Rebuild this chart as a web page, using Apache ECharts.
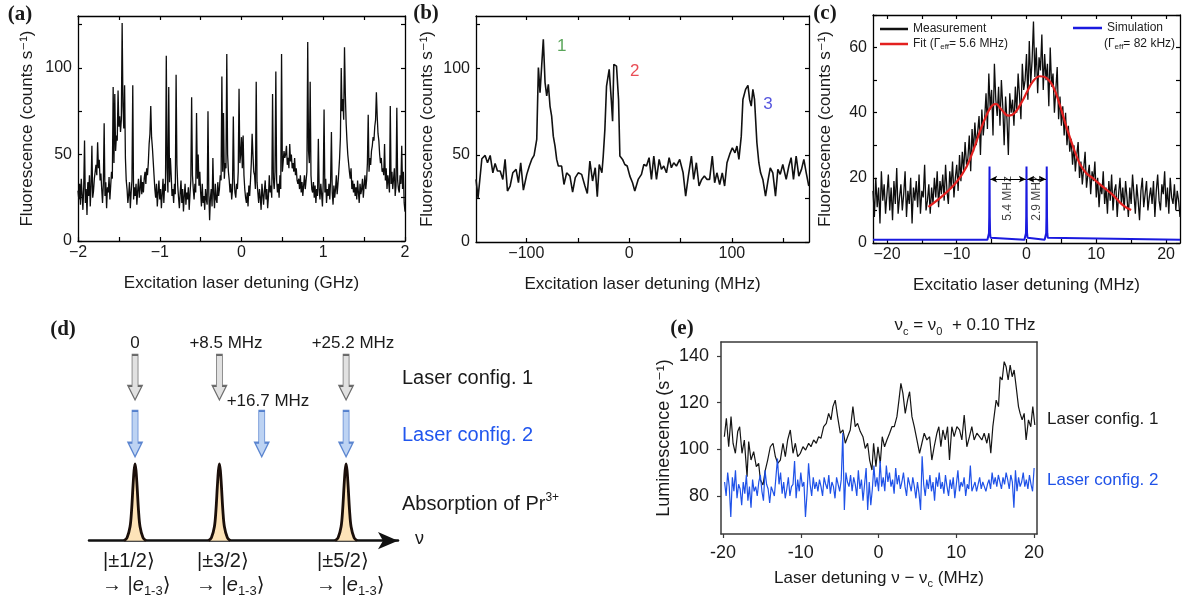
<!DOCTYPE html>
<html><head><meta charset="utf-8">
<script src="https://cdn.jsdelivr.net/npm/echarts@6/dist/echarts.min.js"></script>
<style>html,body{margin:0;padding:0;background:#fff}#c{width:1188px;height:605px}</style>
</head><body><div id="c"></div>
<script>
// ================= DATA =================
// (a) Fluorescence vs detuning (GHz), evenly sampled from -2 to 2
const aRange = [-2, 2];
const aY = [
29,24,33,21,36,27,18,31,58,22,30,15,34,26,38,20,32,55,25,29,
36,40,44,38,57,42,47,35,39,30,22,33,68,26,34,19,31,28,37,24,
32,40,36,89,45,85,52,61,58,87,66,72,63,70,126,78,65,90,48,35,
30,22,27,34,19,28,35,90,24,31,26,33,21,29,36,25,30,38,27,34,
28,36,40,33,42,38,45,56,62,78,60,54,46,38,30,25,33,20,28,35,
24,30,19,27,36,22,33,29,107,42,28,89,34,48,38,26,30,22,33,27,
96,44,32,25,19,28,35,22,30,17,26,33,21,28,24,31,18,27,35,83,
38,30,24,33,28,74,36,50,32,40,28,20,33,22,26,18,30,24,21,75,
28,12,25,30,20,48,27,19,33,24,22,34,26,30,38,35,95,40,74,36,
45,42,108,50,40,35,28,33,24,30,72,36,28,25,33,30,40,88,45,50,
60,42,61,38,30,25,22,28,20,32,26,35,45,62,50,40,38,30,92,34,
28,22,30,25,18,33,27,21,29,35,24,30,19,26,38,28,32,25,85,36,
30,40,98,35,28,33,25,38,30,108,40,46,52,48,50,55,44,48,42,56,
46,50,42,45,40,48,38,42,35,33,36,30,38,28,34,26,32,38,30,35,
40,115,52,45,92,38,30,28,34,25,32,22,30,26,59,30,24,33,27,20,
34,76,28,36,22,30,26,33,24,35,63,28,21,32,25,30,38,27,33,40,
48,60,100,75,82,70,112,85,68,58,50,45,40,36,42,30,35,28,33,26,
31,24,35,28,22,33,27,30,36,25,32,38,30,35,45,73,40,48,44,52,
55,60,58,66,70,86,72,62,58,50,45,48,40,42,38,56,35,42,30,38,
34,28,78,33,40,30,36,42,26,32,77,35,30,28,38,33,55,30,40,22,17];
const aXTicks = [-2,-1.5,-1,-0.5,0,0.5,1,1.5,2];
const aXLabels = [-2,-1,0,1,2];
const abYTicks = [0,25,50,75,100,125];
const abYLabels = [0,50,100];

// (b) Fluorescence vs detuning (MHz)
const bX = [-149,-147,-143.3,-140.1,-137.8,-135.2,-132.6,-130.4,-128.1,-125.5,
-122.9,-120.7,-118.4,-115.8,-113.2,-110,-107.7,-105.5,-102.9,-99.6,
-97.1,-94.8,-92.5,-89.9,-88.3,-86.7,-85.1,-83.5,-81.8,-80.2,
-78.6,-77,-75.4,-73.8,-72.1,-70.5,-68.9,-65.7,-63.4,-60.8,
-57.6,-55,-52.4,-49.5,-46.2,-43,-40.7,-38.2,-35.6,-33,
-31,-29.1,-26.5,-25.2,-23.6,-22,-19.4,-17.4,-16.1,-14.9,
-12.3,-10.3,-9,-6.4,-4.2,-1.9,0.7,3.3,5.5,8.8,
12,14.3,16.9,19.4,21.7,24,26.6,29.2,31.4,33.7,
36.3,38.9,41.1,43.4,46,49.2,52.5,55,57.6,60.6,
62.8,65.4,68,70.6,73.2,75.8,78.3,80.9,83.2,85.4,
88.1,90.6,92.9,95.2,97.8,100.4,103,104.9,106.8,109.1,
110.7,113.3,115.6,117.2,118.8,120.4,122,124.3,126.2,127.9,
130.1,132.7,135.3,137.3,139.8,142.4,144.7,147,149.5,152.8,
155.4,157.6,159.9,162.5,165.1,167.7,170,172.3,174.8];
const bY = [36.0,25.4,47.9,49.8,45.6,49.8,39.8,45.2,40.8,40.8,
36.0,47.5,29.3,32.2,39.8,41.8,34.1,45.6,29.8,38.9,
43.7,47.5,49.8,59.0,100.3,85.9,101.2,116.6,91.6,84.0,
90.7,78.2,72.4,60.9,55.2,47.5,43.7,43.7,33.1,39.8,
37.9,28.7,37.0,39.8,38.9,32.2,27.9,46.6,35.1,42.7,
26.0,44.6,39.8,49.4,64.8,89.7,99.3,82.0,69.5,102.2,
101.2,82.0,49.4,47.5,44.6,43.7,37.9,34.1,29.3,36.0,
38.9,44.6,43.7,48.5,36.0,49.4,36.0,47.5,41.8,43.7,
39.8,48.5,42.7,45.6,43.7,47.5,39.8,26.4,37.9,49.4,
36.0,45.6,32.2,36.0,37.9,36.0,36.0,49.4,34.1,39.8,
33.1,39.8,32.2,45.6,50.4,54.2,51.3,55.2,47.5,60.9,
82.0,87.8,90.1,82.0,78.2,87.8,82.0,57.1,45.6,39.8,
36.0,26.4,36.0,42.7,39.8,26.4,41.8,38.9,44.6,36.0,
43.7,48.5,36.0,49.4,37.9,41.8,47.5,39.8,32.2];
const bPeakNames = ['1','2','3'];
const bPeakX = [-65.6, 5.5, 135];
const bPeakY = [112.7, 98.3, 79];
const bPeakColors = ['#2f8f2f','#e3202a','#2b2bd6'];
const bXTicks = [-100,-50,0,50,100,150];
const bXLabels = [-100,0,100];

// (c) Measurement (evenly sampled -22..22 MHz), fit and simulation
const cRange = [-22, 22];
const cMeas = [
16,8,20,11,17,6,22,13,18,9,15,21,10,17,7,19,12,23,9,14,
18,10,15,22,8,16,12,20,6,17,13,19,11,21,9,16,14,24,10,13,
18,9,17,12,20,14,22,11,19,15,21,13,24,16,12,22,17,25,14,20,
24,16,27,19,28,22,31,24,26,33,22,35,28,37,30,34,39,27,41,33,
38,46,35,52,41,47,33,55,44,39,48,36,50,42,30,45,38,27,46,40,
44,36,48,40,52,45,38,55,47,50,58,44,62,49,56,68,51,60,46,57,
53,64,47,58,50,55,42,60,48,52,40,47,54,38,45,36,42,33,40,30,
36,28,32,24,30,22,27,31,20,25,18,23,28,17,21,24,15,22,19,25,
14,20,11,18,15,22,12,17,9,19,13,21,10,16,18,8,15,20,12,17,
10,19,14,8,17,12,21,15,9,18,13,7,16,20,11,15,19,10,14,17,
12,19,8,16,21,13,10,18,15,22,11,17,9,20,14,12,18,10,16,13,8];
const cFitX = [-14.06,-11.9,-10.0,-8.57,-7.6,-6.67,-5.7,-5.0,-4.4,-3.6,-2.6,-1.7,-0.5,0,0.95,1.9,2.86,3.8,4.76,5.7,6.67,7.6,8.57,9.5,10.9,12.4,13.8,15];
const cFitY = [11.1,14.7,18.8,23.5,28.6,34.3,39.4,42,42.7,41,39.1,39.9,44,46.1,49.7,51.2,50.7,48.1,42.5,35.8,29.6,24.5,21.4,19.9,17.3,14.7,11.6,10.1];
const cSimX = [-22,
 -5.6,-5.45,-5.38,-5.34,-5.3,-5.26,-5.22,-5.15,-5.0,
 -0.3,-0.15,-0.08,-0.04,0,0.04,0.08,0.15,0.3,
 2.6,2.75,2.82,2.86,2.9,2.94,2.98,3.05,3.2, 22];
const cSimY = [1,
 1,1.6,3,8,23.5,8,3,1.6,1,
 1,1.6,3,8,23.5,8,3,1.6,1,
 1,1.6,3,8,23.5,8,3,1.6,1, 1];
const cGapFrom = [-5.2, 0.1];
const cGapTo = [-0.1, 2.8];
const cGapY = 19.6;
const cGapText = ['5.4 MHz','2.9 MHz'];
const cGapTextX = [-2.65, 1.45];
const cGapTextY = 13.7;
const cXTicks = [-20,-15,-10,-5,0,5,10,15,20];
const cXLabels = [-20,-10,0,10,20];
const cYTicks = [0,10,20,30,40,50,60,70];
const cYLabels = [0,20,40,60];

// (d) level diagram (schematic positions)
const dPeakCenters = [14.9, 42.2, 83.2];
const dProfileDx = [-3.56,-2.59,-1.62,-1.13,-0.65,-0.32,0,0.32,0.65,1.13,1.62,2.59,3.56];
const dProfileH  = [0,1.4,6.6,14.2,26.1,33.2,36.5,33.2,26.1,14.2,6.6,1.4,0];
const dGrayArrowX = [14.9, 42.2, 83.2];
const dGrayArrowY = [77.5, 77.5, 77.5];
const dBlueArrowX = [14.9, 55.9, 83.2];
const dBlueArrowY = [50.7, 50.7, 50.7];

// (e) Luminescence vs detuning
const eBlackX = [-19.83,-19.57,-19.27,-18.97,-18.71,-18.41,-18.11,-17.86,-17.56,-17.26,
-16.91,-16.70,-16.40,-16.06,-15.72,-15.42,-15.20,-14.86,-14.56,-14.26,
-13.92,-13.57,-13.27,-12.97,-12.63,-12.29,-11.99,-11.69,-11.35,-11.00,
-10.70,-10.40,-10.06,-9.72,-9.38,-8.99,-8.69,-8.35,-8.01,-7.71,
-7.41,-7.06,-6.72,-6.42,-6.12,-5.87,-5.57,-5.27,-4.92,-4.58,
-4.28,-3.98,-3.64,-3.30,-3.00,-2.70,-2.35,-2.01,-1.71,-1.41,
-1.15,-0.85,-0.64,-0.34,-0.08,0.22,0.47,0.77,1.07,1.42,
1.72,2.02,2.36,2.62,2.87,3.13,3.43,3.73,3.99,4.29,
4.59,4.93,5.27,5.57,5.87,6.21,6.56,6.85,7.15,7.50,
7.75,8.01,8.27,8.57,8.87,9.12,9.42,9.72,10.07,10.41,
10.71,11.01,11.35,11.69,11.99,12.29,12.64,12.98,13.28,13.58,
13.92,14.18,14.43,14.69,14.86,15.12,15.42,15.63,15.89,16.15,
16.40,16.66,16.92,17.18,17.43,17.69,17.99,18.20,18.46,18.72,
18.97,19.27,19.57,19.83,20.09];
const eBlackY = [105.4,113.3,101.1,114,102.6,98.3,107.6,109.7,98.3,104,
88.3,103.3,95.4,99,92.6,94,86.9,84.7,91.1,95.4,
101.1,102.6,96.9,94,95.4,102.6,96.9,104,108.3,98.3,
102.6,96.9,98.3,101.1,99.7,102.6,101.1,104,102.6,105.4,
104.7,109.7,111.1,115.4,112.6,118.3,121.1,114,106.9,108.3,
102.6,105.4,108.3,118.3,109.7,111.1,107.6,105.4,100.4,102.6,
95.4,91.1,102.6,92.6,101.1,94,105.4,101.1,104,106.9,
109.7,109.7,114,121.1,128.3,124,115.4,121.1,124.7,114,
109.7,104,98.3,102.6,106.9,104,105.4,95.4,101.1,106.9,
109.7,101.1,108.3,104,109.7,95.4,109.7,105.4,109.7,108.3,
104,114.7,101.1,105.4,109.7,104,106.9,105.4,104,106.9,
102.6,106.9,98.3,109.7,109.7,121.1,118.3,131.1,129.7,137.6,
135.4,129.7,136.1,131.1,134,126.9,118.3,115.4,112.6,115.4,
104,112.6,109.7,118.3,110.4];
const eBlueRange = [-19.8, 20.0];
const eBlueY = [
86,80,90,84,71,88,82,91,79,85,83,76,86,81,89,78,84,75,87,82,
84,80,86,89,82,78,91,85,83,77,84,84,80,88,96,85,90,81,86,79,
83,88,80,84,85,95,79,87,82,90,84,86,71,81,94,85,80,88,83,86,
82,87,84,80,88,85,83,89,81,86,84,79,88,85,82,87,107,74,90,86,
84,89,82,88,85,80,91,83,87,78,85,92,74,86,76,83,93,84,88,82,
95,84,88,82,93,86,90,84,87,81,92,85,89,83,86,90,84,80,88,85,
82,88,84,79,86,81,74,97,85,80,87,83,89,82,86,78,88,84,90,83,
86,81,89,84,80,87,83,88,79,85,91,82,86,84,88,80,85,83,93,82,
84,86,82,85,88,83,86,84,82,85,87,83,90,85,88,84,89,86,83,88,
85,90,87,83,89,86,75,91,82,88,84,86,90,84,87,83,89,85,82,92];
const eXTicks = [-20,-10,0,10,20];
const eYTicks = [80,100,120,140];

// ================= CHART =================
const FONT = '"Liberation Sans", Arial, "DejaVu Sans", sans-serif';
const SERIF = '"Liberation Serif", "Times New Roman", serif';
const mfmt = v => (v < 0 ? '\u2212' + Math.abs(v) : String(v));
const even = (arr, r) => arr.map((y, i) => [+(r[0] + (r[1] - r[0]) * i / (arr.length - 1)).toFixed(4), y]);
const zip = (xs, ys) => xs.map((x, i) => [x, ys[i]]);

function axisPair(kind, grid, min, max, ticks, labels, o) {
  const isX = kind === 'x';
  const ls = {color: o.frame || '#000', width: o.frameW || 1.3};
  const main = {
    type: 'value', gridIndex: grid, min: min, max: max,
    position: isX ? 'bottom' : 'left',
    splitLine: {show: false},
    axisLine: {show: true, onZero: false, lineStyle: ls},
    axisTick: {show: true, inside: o.inside, length: 4, customValues: ticks, lineStyle: {color: ls.color, width: 1.2}},
    axisLabel: {show: true, customValues: labels, formatter: o.fmt, fontSize: o.labelSize, fontFamily: FONT, color: '#1a1a1a', margin: o.margin},
    name: o.name, nameLocation: 'middle', nameGap: o.nameGap, nameRotate: isX ? 0 : 90,
    nameTextStyle: {fontSize: o.nameSize || 17, fontFamily: FONT, color: '#1a1a1a', lineHeight: 22, rich: o.rich}
  };
  const mirror = {
    type: 'value', gridIndex: grid, min: min, max: max,
    position: isX ? 'top' : 'right',
    splitLine: {show: false},
    axisLine: {show: true, onZero: false, lineStyle: ls},
    axisTick: {show: !!o.mirrorTicks, inside: true, length: 4, customValues: ticks, lineStyle: {color: ls.color, width: 1.2}},
    axisLabel: {show: false}
  };
  return [main, mirror];
}

const subRich = {s: {fontSize: 11, fontFamily: FONT, lineHeight: 22, verticalAlign: 'bottom', color: '#1a1a1a'}};

const xAxes = [].concat(
  axisPair('x', 0, -2, 2, aXTicks, aXLabels, {inside: true, mirrorTicks: true, fmt: mfmt, labelSize: 16, margin: 4, name: 'Excitation laser detuning (GHz)', nameGap: 31}),
  axisPair('x', 1, -149, 175, bXTicks, bXLabels, {inside: true, mirrorTicks: true, fmt: mfmt, labelSize: 16, margin: 4, name: 'Excitation laser detuning (MHz)', nameGap: 31}),
  axisPair('x', 2, -22, 22, cXTicks, cXLabels, {inside: true, mirrorTicks: true, fmt: mfmt, labelSize: 16, margin: 4, name: 'Excitatio laser detuning (MHz)', nameGap: 31}),
  [{type: 'value', gridIndex: 3, min: 0, max: 100, splitLine: {show: false}, axisTick: {show: false}, axisLabel: {show: false},
    axisLine: {show: true, onZero: true, symbol: ['none', 'arrow'], symbolSize: [13, 20], lineStyle: {color: '#111', width: 2.5}}}],
  axisPair('x', 4, -20.26, 20.37, eXTicks, eXTicks, {inside: false, mirrorTicks: false, frame: '#3a3a3a', frameW: 1.5, fmt: v => String(v), labelSize: 18, margin: 10,
    name: 'Laser detuning \u03bd \u2212 \u03bd{s|c} (MHz)', nameGap: 33, rich: subRich})
);
const yAxes = [].concat(
  axisPair('y', 0, 0, 130, abYTicks, abYLabels, {inside: true, mirrorTicks: true, fmt: mfmt, labelSize: 16, margin: 6, name: 'Fluorescence (counts s\u207b\u00b9)', nameGap: 40}),
  axisPair('y', 1, 0, 130, abYTicks, abYLabels, {inside: true, mirrorTicks: true, fmt: mfmt, labelSize: 16, margin: 6, name: 'Fluorescence (counts s\u207b\u00b9)', nameGap: 38}),
  axisPair('y', 2, 0, 70, cYTicks, cYLabels, {inside: true, mirrorTicks: true, fmt: mfmt, labelSize: 16, margin: 6, name: 'Fluorescence (counts s\u207b\u00b9)', nameGap: 37}),
  [{type: 'value', gridIndex: 3, min: -30, max: 100, show: false}],
  axisPair('y', 4, 63.7, 146, eYTicks, eYTicks, {inside: false, mirrorTicks: false, frame: '#3a3a3a', frameW: 1.5, fmt: v => String(v), labelSize: 18, margin: 12,
    name: 'Luminescence (s\u207b\u00b9)', nameGap: 29, nameSize: 18})
);

const ARROW = 'path://M4,0L10,0L10,31L14,31L7,45L0,31L4,31Z';

const series = [
  // (a)
  {type: 'line', xAxisIndex: 0, yAxisIndex: 0, data: even(aY, aRange), symbol: 'none', lineStyle: {color: '#0d0d0d', width: 1.3}, silent: true},
  // (b)
  {type: 'line', xAxisIndex: 2, yAxisIndex: 2, data: zip(bX, bY), symbol: 'none', lineStyle: {color: '#111', width: 1.6}, silent: true},
  {type: 'scatter', xAxisIndex: 2, yAxisIndex: 2, symbolSize: 1, itemStyle: {color: 'rgba(0,0,0,0)'}, silent: true,
   data: bPeakX.map((x, i) => ({value: [x, bPeakY[i]], label: {color: bPeakColors[i]}})),
   label: {show: true, position: 'inside', formatter: p => bPeakNames[p.dataIndex], fontSize: 17, fontFamily: FONT}},
  // (c)
  {name: 'Measurement', type: 'line', xAxisIndex: 4, yAxisIndex: 4, data: even(cMeas, cRange), symbol: 'none', itemStyle: {color: '#111'}, lineStyle: {color: '#0d0d0d', width: 1.3}, silent: true},
  {name: 'Fit', type: 'line', xAxisIndex: 4, yAxisIndex: 4, data: zip(cFitX, cFitY), smooth: 0.4, symbol: 'none', itemStyle: {color: '#e3201f'}, lineStyle: {color: '#e3201f', width: 2.2}, silent: true},
  {name: 'Simulation', type: 'line', xAxisIndex: 4, yAxisIndex: 4, data: zip(cSimX, cSimY), symbol: 'none', itemStyle: {color: '#1a1adf'}, lineStyle: {color: '#1a1adf', width: 2}, silent: true,
   markLine: {silent: true, symbol: ['arrow', 'arrow'], symbolSize: [5, 7], label: {show: false}, lineStyle: {color: '#000', width: 1, type: 'solid'},
     data: cGapFrom.map((x, i) => [{coord: [x, cGapY]}, {coord: [cGapTo[i], cGapY]}])}},
  {type: 'scatter', xAxisIndex: 4, yAxisIndex: 4, symbolSize: 1, itemStyle: {color: 'rgba(0,0,0,0)'}, silent: true,
   data: cGapTextX.map(x => [x, cGapTextY]),
   label: {show: true, position: 'inside', rotate: 90, formatter: p => cGapText[p.dataIndex], fontSize: 12, fontFamily: FONT, color: '#111'}},
  // (d)
  ...dPeakCenters.map(c => ({type: 'line', xAxisIndex: 6, yAxisIndex: 6, smooth: 0.35, symbol: 'none', silent: true,
    data: dProfileDx.map((dx, j) => [c + dx, dProfileH[j]]),
    lineStyle: {color: '#1b0f0a', width: 2.8}, areaStyle: {color: '#fde3b8', opacity: 1}})),
  {type: 'scatter', xAxisIndex: 6, yAxisIndex: 6, symbol: ARROW, symbolSize: [14, 45], silent: true,
   itemStyle: {color: '#d9d9d9', borderColor: '#4a4a4a', borderWidth: 1.3}, data: zip(dGrayArrowX, dGrayArrowY)},
  {type: 'scatter', xAxisIndex: 6, yAxisIndex: 6, symbol: ARROW, symbolSize: [14, 46], silent: true,
   itemStyle: {color: '#adc8f0', borderColor: '#3a6cc4', borderWidth: 1.3}, data: zip(dBlueArrowX, dBlueArrowY)},
  // (e)
  {type: 'line', xAxisIndex: 7, yAxisIndex: 7, data: zip(eBlackX, eBlackY), symbol: 'none', lineStyle: {color: '#151515', width: 1.2}, silent: true},
  {type: 'line', xAxisIndex: 7, yAxisIndex: 7, data: even(eBlueY, eBlueRange), symbol: 'none', lineStyle: {color: '#1f52e8', width: 1.2}, silent: true}
];

function txt(x, y, text, o) {
  o = o || {};
  return {type: 'text', x: x, y: y, silent: true, style: {
    text: text, fontSize: o.size || 17, fontFamily: o.family || FONT, fontWeight: o.weight || 'normal',
    fill: o.color || '#1a1a1a', align: o.align || 'left', verticalAlign: 'middle', rich: o.rich, lineHeight: o.lineHeight}};
}
const supRich = {u: {fontSize: 12, fontFamily: FONT, verticalAlign: 'top', lineHeight: 24, fill: '#1a1a1a'}};
const stateRich = {
  i: {fontSize: 20, fontStyle: 'italic', fontFamily: FONT, lineHeight: 26},
  s: {fontSize: 13, fontFamily: FONT, lineHeight: 26, verticalAlign: 'bottom'}
};
const titleRich = {
  s: {fontSize: 11, fontFamily: FONT, lineHeight: 24, verticalAlign: 'bottom'}
};
const legRich = {s: {fontSize: 8, fontFamily: FONT, lineHeight: 14, verticalAlign: 'bottom', color: '#222'}};
const graphics = [
  txt(20, 15, '(a)', {family: SERIF, weight: 'bold', size: 21, align: 'center'}),
  txt(426, 14, '(b)', {family: SERIF, weight: 'bold', size: 21, align: 'center'}),
  txt(825, 14, '(c)', {family: SERIF, weight: 'bold', size: 21, align: 'center'}),
  txt(63, 330, '(d)', {family: SERIF, weight: 'bold', size: 21, align: 'center'}),
  txt(682, 329, '(e)', {family: SERIF, weight: 'bold', size: 21, align: 'center'}),
  // (c) legend second line
  txt(1104, 44, '(\u0393{s|eff}= 82 kHz)', {size: 12, rich: legRich, lineHeight: 14}),
  // (d)
  txt(135, 343, '0', {align: 'center'}),
  txt(226, 343, '+8.5 MHz', {align: 'center'}),
  txt(353, 343, '+25.2 MHz', {align: 'center'}),
  txt(268, 401, '+16.7 MHz', {align: 'center'}),
  txt(402, 378, 'Laser config. 1', {size: 20}),
  txt(402, 435, 'Laser config. 2', {size: 20, color: '#2156ee'}),
  txt(402, 504, 'Absorption of Pr{u|3+}', {size: 20, rich: supRich, lineHeight: 24}),
  txt(415, 539, '\u03bd', {size: 18}),
  txt(103, 561, '|\u00b11/2\u27e9', {size: 20}),
  txt(197, 561, '|\u00b13/2\u27e9', {size: 20}),
  txt(317, 561, '|\u00b15/2\u27e9', {size: 20}),
  txt(102, 585, '\u2192 |{i|e}{s|1-3}\u27e9', {size: 20, rich: stateRich, lineHeight: 26}),
  txt(196, 585, '\u2192 |{i|e}{s|1-3}\u27e9', {size: 20, rich: stateRich, lineHeight: 26}),
  txt(316, 585, '\u2192 |{i|e}{s|1-3}\u27e9', {size: 20, rich: stateRich, lineHeight: 26}),
  // (e)
  txt(965, 325, '\u03bd{s|c} = \u03bd{s|0}  + 0.10 THz', {rich: titleRich, lineHeight: 24, align: 'center'}),
  txt(1047, 419, 'Laser config. 1'),
  txt(1047, 480, 'Laser config. 2', {color: '#1f52e8'})
];

const chart = echarts.init(document.getElementById('c'), null, {renderer: 'canvas', width: 1188, height: 605});
chart.setOption({
  animation: false,
  backgroundColor: '#fff',
  textStyle: {fontFamily: FONT},
  grid: [
    {left: 78, top: 16, width: 327, height: 225, outerBoundsMode: 'none'},
    {left: 476, top: 16, width: 333, height: 226, outerBoundsMode: 'none'},
    {left: 873, top: 15, width: 307, height: 228, outerBoundsMode: 'none'},
    {left: 89, top: 330, width: 309, height: 273.9, outerBoundsMode: 'none'},
    {left: 721, top: 342, width: 316, height: 192, outerBoundsMode: 'none'}
  ],
  xAxis: xAxes,
  yAxis: yAxes,
  legend: [
    {left: 880, top: 22, orient: 'vertical', itemWidth: 28, itemHeight: 2.5, itemGap: 1, icon: 'rect', padding: 0, selectedMode: false,
     data: ['Measurement', 'Fit'], formatter: n => (n === 'Fit' ? 'Fit (\u0393{s|eff}= 5.6 MHz)' : n),
     textStyle: {fontSize: 12, fontFamily: FONT, color: '#222', lineHeight: 14, rich: legRich}},
    {left: 1073, top: 21, orient: 'vertical', itemWidth: 29, itemHeight: 2.5, icon: 'rect', padding: 0, selectedMode: false,
     data: ['Simulation'], textStyle: {fontSize: 12, fontFamily: FONT, color: '#222', lineHeight: 14}}
  ],
  series: series,
  graphic: graphics
});
</script>
</body></html>
